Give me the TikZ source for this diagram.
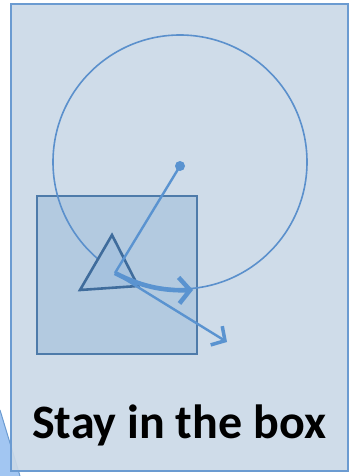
\documentclass[tikz,border=0pt]{standalone}
\usepackage{fontspec}
\setmainfont{Carlito}
\usepackage{xcolor}
\usetikzlibrary{arrows.meta,positioning,calc}
\definecolor{boxfill}{HTML}{CBD9E7}
\definecolor{boxline}{HTML}{6B9BD1}
\definecolor{ringline}{HTML}{5B90CC}
\definecolor{sqfill}{HTML}{B3CAE0}
\definecolor{sqline}{HTML}{4E7BAA}
\definecolor{triline}{HTML}{3F6C9C}
\definecolor{vecblue}{HTML}{5A93D0}
\definecolor{peekfill}{HTML}{A2C6F2}
\tikzset{
  stagebox/.style={draw=boxline, fill=boxfill, line width=2pt},
  ring/.style={draw=ringline, line width=1.6pt},
  square/.style={draw=sqline, fill=sqfill, line width=2.6pt},
  agent/.style={draw=triline, fill=sqfill!85!vecblue, line width=2.6pt, line join=miter},
  vec/.style={-{Straight Barb[length=10pt,width=22pt,line width=3.5pt]}, draw=vecblue, line width=2.4pt},
  bigvec/.style={-{Straight Barb[length=11pt,width=26pt,line width=4.5pt]}, draw=vecblue, line width=4.6pt},
  title/.style={font=\fontsize{48}{54}\selectfont\bfseries, anchor=base},
}

\begin{document}
\begin{tikzpicture}[x=1pt,y=-1pt]
  \useasboundingbox (0,0) rectangle (356,476);

  % the shape peeking in at the lower left
  \fill[peekfill] (0,410) -- (20,476) -- (0,476) -- cycle;
  \draw[boxline, line width=1pt] (0,410) -- (20,476);

  % the box to stay in
  \draw[stagebox, fill opacity=0.92] (11,4) rectangle (348,471);

  \coordinate (centre) at (180,166);
  \coordinate (agent) at (115,273);
  \coordinate (reach) at (193,290);
  \coordinate (drift) at (227,342);

  \draw[square] (37,196) rectangle (197,354);
  \draw[ring] (180,162) circle[radius=127];
  \draw[agent] (112,235) -- (80,290) -- (138,286) -- cycle;

  \draw[vecblue, line width=2.4pt] (centre) -- (agent);
  \fill[vecblue] (centre) circle[radius=5];
  \draw[vec] (agent) -- (drift);
  \draw[bigvec] (agent) .. controls (140,286) and (162,291) .. (reach);

  \node[title] (label) at (179,438) {Stay in the box};
\end{tikzpicture}
\end{document}
